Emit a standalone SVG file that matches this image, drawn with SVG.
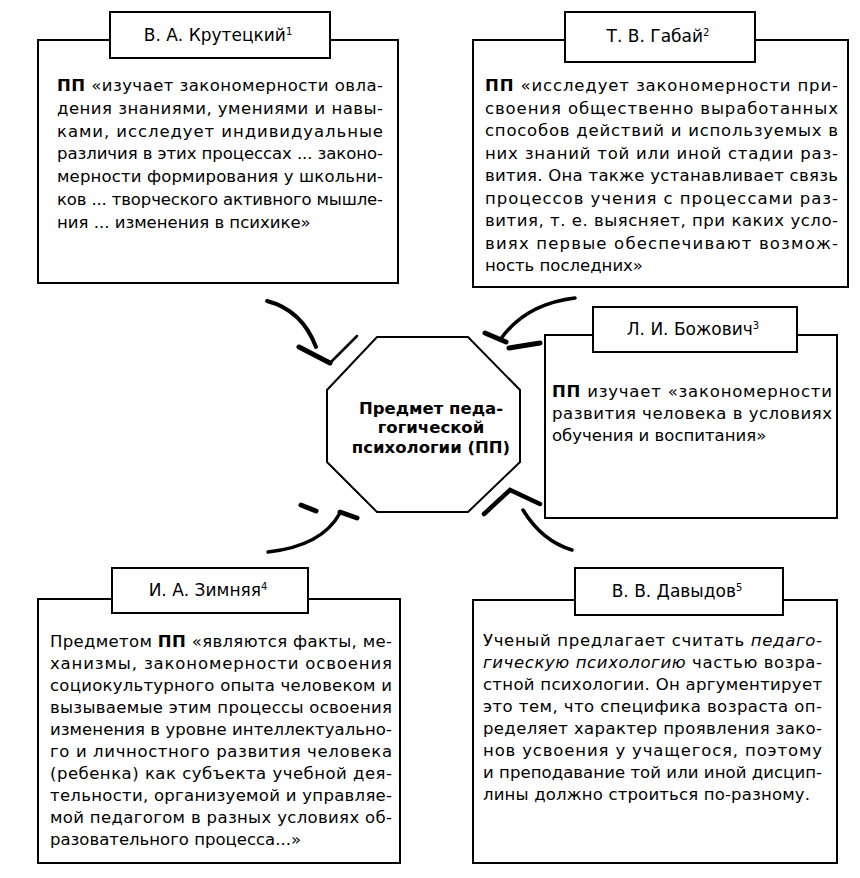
<svg xmlns="http://www.w3.org/2000/svg" width="860" height="878" viewBox="0 0 860 878">
<style>
.box{fill:#fff;stroke:#000;stroke-width:2}
.t{font-family:"DejaVu Sans","Liberation Sans",sans-serif;font-size:16.5px;fill:#000}
.h{font-family:"DejaVu Sans","Liberation Sans",sans-serif;font-size:17px;fill:#000;text-anchor:middle}
.c{font-family:"DejaVu Sans","Liberation Sans",sans-serif;font-size:16.5px;font-weight:bold;fill:#000;text-anchor:middle}
.b{font-weight:bold}
.i{font-style:italic}
.sup{font-size:10px}
.arr{fill:none;stroke:#000;stroke-linecap:round}
</style>
<rect width="860" height="878" fill="#fff"/>
<g id="connectors">
<path class="arr" d="M267,301 Q302,310 316,347" stroke-width="4"/>
<path class="arr" d="M299,347 L330,363" stroke-width="5"/>
<path class="arr" d="M330,363 L357,336" stroke-width="2.5"/>
<path class="arr" d="M575,298 Q525,304 500,340" stroke-width="3.5"/>
<path class="arr" d="M485,333 L506,342" stroke-width="5"/>
<path class="arr" d="M509,348 L540,343" stroke-width="5"/>
<path class="arr" d="M268,552 Q322,546 340,513" stroke-width="3.5"/>
<path class="arr" d="M340,512 L357,518" stroke-width="5"/>
<path class="arr" d="M301,505 L316,511" stroke-width="5"/>
<path class="arr" d="M484,514 L510,490 L540,504" stroke-width="4.5"/>
<path class="arr" d="M523,510 Q542,541 572,550" stroke-width="3.5"/>
</g>
<g id="center">
<polygon class="box" points="377,337 468,337 520,390 520,462 468,512 377,512 327,462 327,390"/>
<text class="c" x="431" y="414">Предмет педа-</text>
<text class="c" x="431" y="433">гогической</text>
<text class="c" x="431" y="453">психологии (ПП)</text>
</g>
<g id="krutetsky">
<rect class="box" x="38" y="40" width="360" height="243"/>
<rect class="box" x="110" y="12" width="220" height="46"/>
<text class="h" x="218" y="41">В. А. Крутецкий<tspan class="sup" dy="-6">1</tspan></text>
<text class="t" x="57" y="91" textLength="326" lengthAdjust="spacing"><tspan class="b">ПП</tspan> «изучает закономерности овла-</text>
<text class="t" x="57" y="114" textLength="326" lengthAdjust="spacing">дения знаниями, умениями и навы-</text>
<text class="t" x="57" y="137" textLength="326" lengthAdjust="spacing">ками, исследует индивидуальные</text>
<text class="t" x="57" y="159" textLength="326" lengthAdjust="spacing">различия в этих процессах ... законо-</text>
<text class="t" x="57" y="182" textLength="326" lengthAdjust="spacing">мерности формирования у школьни-</text>
<text class="t" x="57" y="205" textLength="326" lengthAdjust="spacing">ков ... творческого активного мышле-</text>
<text class="t" x="57" y="228">ния ... изменения в психике»</text>
</g>
<g id="gabay">
<rect class="box" x="473" y="40" width="375" height="247"/>
<rect class="box" x="565" y="12" width="190" height="50"/>
<text class="h" x="658" y="42">Т. В. Габай<tspan class="sup" dy="-6">2</tspan></text>
<text class="t" x="485" y="91" textLength="353" lengthAdjust="spacing"><tspan class="b">ПП</tspan> «исследует закономерности при-</text>
<text class="t" x="485" y="113.5" textLength="353" lengthAdjust="spacing">своения общественно выработанных</text>
<text class="t" x="485" y="136" textLength="353" lengthAdjust="spacing">способов действий и используемых в</text>
<text class="t" x="485" y="158.5" textLength="353" lengthAdjust="spacing">них знаний той или иной стадии раз-</text>
<text class="t" x="485" y="181" textLength="353" lengthAdjust="spacing">вития. Она также устанавливает связь</text>
<text class="t" x="485" y="203.5" textLength="353" lengthAdjust="spacing">процессов учения с процессами раз-</text>
<text class="t" x="485" y="226" textLength="353" lengthAdjust="spacing">вития, т. е. выясняет, при каких усло-</text>
<text class="t" x="485" y="248.5" textLength="353" lengthAdjust="spacing">виях первые обеспечивают возмож-</text>
<text class="t" x="485" y="271">ность последних»</text>
</g>
<g id="bozhovich">
<rect class="box" x="545" y="335" width="292" height="183"/>
<rect class="box" x="593" y="307" width="204" height="45"/>
<text class="h" x="693" y="335">Л. И. Божович<tspan class="sup" dy="-6">3</tspan></text>
<text class="t" x="552" y="397" textLength="280" lengthAdjust="spacing"><tspan class="b">ПП</tspan> изучает «закономерности</text>
<text class="t" x="552" y="419" textLength="280" lengthAdjust="spacing">развития человека в условиях</text>
<text class="t" x="552" y="441">обучения и воспитания»</text>
</g>
<g id="zimnyaya">
<rect class="box" x="38" y="599" width="362" height="264"/>
<rect class="box" x="112" y="568" width="196" height="45"/>
<text class="h" x="208" y="596">И. А. Зимняя<tspan class="sup" dy="-6">4</tspan></text>
<text class="t" x="50" y="647" textLength="342" lengthAdjust="spacing">Предметом <tspan class="b">ПП</tspan> «являются факты, ме-</text>
<text class="t" x="50" y="669" textLength="342" lengthAdjust="spacing">ханизмы, закономерности освоения</text>
<text class="t" x="50" y="691" textLength="342" lengthAdjust="spacing">социокультурного опыта человеком и</text>
<text class="t" x="50" y="713" textLength="342" lengthAdjust="spacing">вызываемые этим процессы освоения</text>
<text class="t" x="50" y="735" textLength="342" lengthAdjust="spacing">изменения в уровне интеллектуально-</text>
<text class="t" x="50" y="757" textLength="342" lengthAdjust="spacing">го и личностного развития человека</text>
<text class="t" x="50" y="779" textLength="342" lengthAdjust="spacing">(ребенка) как субъекта учебной дея-</text>
<text class="t" x="50" y="801" textLength="342" lengthAdjust="spacing">тельности, организуемой и управляе-</text>
<text class="t" x="50" y="823" textLength="342" lengthAdjust="spacing">мой педагогом в разных условиях об-</text>
<text class="t" x="50" y="845">разовательного процесса...»</text>
</g>
<g id="davydov">
<rect class="box" x="473" y="600" width="364" height="263"/>
<rect class="box" x="575" y="568" width="208" height="47"/>
<text class="h" x="677" y="597">В. В. Давыдов<tspan class="sup" dy="-6">5</tspan></text>
<text class="t" x="483" y="646" textLength="339" lengthAdjust="spacing">Ученый предлагает считать <tspan class="i">педаго-</tspan></text>
<text class="t" x="483" y="668" textLength="339" lengthAdjust="spacing"><tspan class="i">гическую психологию</tspan> частью возра-</text>
<text class="t" x="483" y="690" textLength="339" lengthAdjust="spacing">стной психологии. Он аргументирует</text>
<text class="t" x="483" y="712" textLength="339" lengthAdjust="spacing">это тем, что специфика возраста оп-</text>
<text class="t" x="483" y="734" textLength="339" lengthAdjust="spacing">ределяет характер проявления зако-</text>
<text class="t" x="483" y="756" textLength="339" lengthAdjust="spacing">нов усвоения у учащегося, поэтому</text>
<text class="t" x="483" y="778" textLength="339" lengthAdjust="spacing">и преподавание той или иной дисцип-</text>
<text class="t" x="483" y="800" textLength="327" lengthAdjust="spacing">лины должно строиться по-разному.</text>
</g>
</svg>
